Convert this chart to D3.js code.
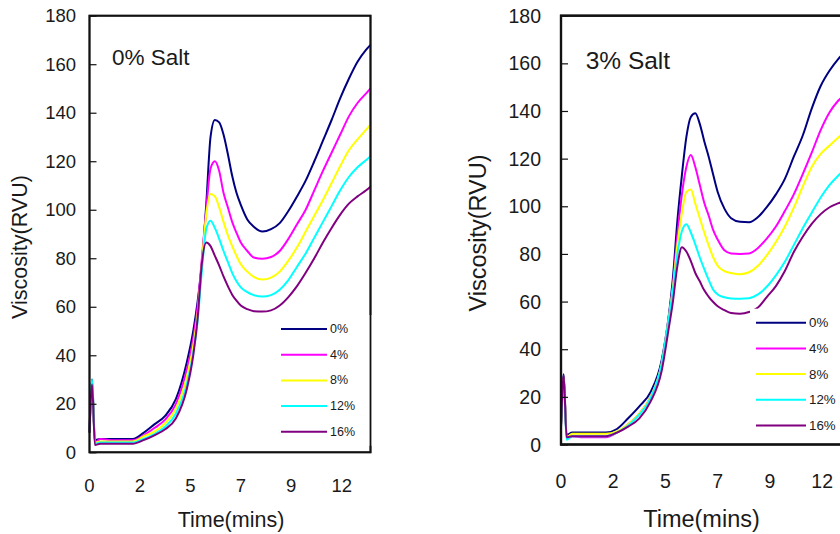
<!DOCTYPE html>
<html>
<head>
<meta charset="utf-8">
<script src="https://cdn.jsdelivr.net/npm/d3@7/dist/d3.min.js"></script>
<style>
  html, body { margin: 0; padding: 0; background: #fff; }
  svg { display: block; }
  text { font-family: "Liberation Sans", Arial, sans-serif; fill: #1a1a1a; }
</style>
</head>
<body>
<svg id="chart" width="840" height="534"></svg>
<script>
// Sampling times (min) shared by every RVA pasting curve
const times = [0, 0.12, 0.25, 0.5, 1.0, 1.5, 2.0, 2.5, 3.0, 3.5, 4.0, 4.5, 4.8, 5.0, 5.2, 5.4, 5.6, 5.8, 6.0, 6.2,
               6.4, 6.6, 6.8, 7.0, 7.3, 7.6, 8.0, 8.4, 8.8, 9.2, 9.6, 10.0, 10.4, 10.8, 11.2, 11.6, 12.0, 12.4, 12.8, 13.0];

// Viscosity (RVU), 0% salt, one array per additive level
const salt0_level0  = [8.5, 30, 5, 5.5, 5.5, 5.5, 5.5, 8, 11.5, 15, 22, 37, 50, 62, 78, 102, 130, 137, 136, 131,
                       123, 114, 107, 102, 96, 93, 91, 92, 94.5, 99.5, 105.5, 112, 120, 128.5, 137, 146, 154, 161, 166, 168];
const salt0_level4  = [8.5, 29, 4, 5.5, 5, 5, 5, 7, 10, 13.5, 20, 34, 47, 60, 80, 100, 117, 120, 116, 107,
                       101, 95, 90.5, 86.5, 83, 80.3, 79.8, 80.5, 83, 88, 94, 100, 108, 116, 123.5, 131, 138.5, 144, 148, 150];
const salt0_level8  = [8, 29, 4, 4.5, 4.5, 4.5, 4.5, 6.5, 8.5, 12, 18, 31, 44, 57, 78, 98, 106.5, 105.5, 101, 95,
                       89.5, 85, 81, 77.5, 74.5, 72.3, 71.2, 72, 74.5, 79, 84.5, 91, 97.5, 104, 111, 118, 124.5, 129, 133, 135];
const salt0_level12 = [8, 30, 3.5, 4, 4, 4, 4, 5.5, 7.5, 10.5, 16, 28, 41, 54, 75, 92, 95.5, 92.5, 88, 83,
                       78.5, 74, 70.5, 68, 66, 64.8, 64.2, 64.8, 67, 71, 76.5, 82, 88.5, 95, 101.5, 108, 113.5, 117.5, 120.5, 122];
const salt0_level16 = [8, 28, 3, 3.5, 3.5, 3.5, 3.5, 5, 7, 9.5, 14, 26, 40, 55, 78, 86.5, 85, 81, 77, 72.5,
                       68.5, 65, 62.5, 60.5, 59, 58.2, 58, 58.5, 60.5, 64, 68.5, 74, 80, 86.5, 92.5, 98, 102.5, 105.5, 108, 109.5];

// Viscosity (RVU), 3% salt
const salt3_level0  = [8, 29.5, 4, 5, 5, 5, 5, 6.5, 11, 16, 22, 35.5, 53, 70, 94, 113, 129, 137.5, 139, 134.6,
                       127.3, 120.7, 113.2, 106, 99, 95, 93.5, 93.3, 95.5, 99.7, 105, 111.5, 120.8, 129.7, 141, 150.5, 157, 162, 166, 168];
const salt3_level4  = [8, 28, 2.5, 3.5, 3, 3, 3, 5, 8.5, 13, 20, 34, 52, 67, 88, 105, 116.5, 121.5, 116.5, 109,
                       101.5, 96, 90, 86, 81.5, 80.2, 80, 80.2, 82.5, 86.5, 91.5, 98, 105, 113.5, 122.5, 132, 139.5, 144.5, 148, 150];
const salt3_level8  = [8, 28, 3, 4.5, 4.5, 4.5, 4.5, 5.5, 8.5, 13, 20, 34, 52, 66, 84, 97, 106, 107, 101, 95,
                       89, 83.5, 78.5, 75, 72.8, 72, 71.5, 72.3, 75, 79.5, 85, 91.5, 99.4, 108.3, 116.5, 122, 125.5, 129, 132.5, 134];
const salt3_level12 = [7.5, 27, 2, 3.5, 3.5, 3.5, 3.5, 5, 8, 12.5, 19.5, 34, 52, 65, 80, 89.5, 92.5, 89, 84, 78.5,
                       73.6, 69, 65, 63, 61.8, 61.3, 61.2, 61.4, 63, 66.3, 71, 76.7, 83.7, 90.8, 97.3, 103.7, 109, 113, 116.5, 118];
const salt3_level16 = [7, 29, 3, 3.5, 3.5, 3.5, 3.5, 5, 7.5, 11, 18, 31, 48, 60, 75, 82.8, 81, 77, 72, 68.5,
                       64.7, 62, 59.8, 58, 56.4, 55.2, 54.9, 55.6, 57.5, 62, 66.5, 72.8, 80.8, 87.2, 92.6, 96.7, 99.6, 101.3, 103, 104];

const seriesLabels = ["0%", "4%", "8%", "12%", "16%"];
const seriesColors = ["#000080", "#ff00ff", "#ffff00", "#00ffff", "#800080"];
const panelTitles = ["0% Salt", "3% Salt"];

// Time axis: category ticks every 140 s, labelled in whole minutes
const xTickValues = [0, 2.333, 4.667, 7, 9.333, 11.667];
const xTickLabels = ["0", "2", "5", "7", "9", "12"];
const yTickValues = [0, 20, 40, 60, 80, 100, 120, 140, 160, 180];
const xTitle = "Time(mins)";
const yTitle = "Viscosity(RVU)";

const svg = d3.select("#chart");

function drawPanel(p) {
  const x = d3.scaleLinear().domain([0, 13]).range([p.left, p.right]);
  const y = d3.scaleLinear().domain([0, 180]).range([p.bottom, p.top]);
  const g = svg.append("g");

  const line = d3.line()
    .x((d, i) => x(times[i]))
    .y(d => y(d))
    .curve(d3.curveMonotoneX);

  p.series.forEach((vals, i) => {
    g.append("path")
      .datum(vals)
      .attr("d", line)
      .attr("fill", "none")
      .attr("stroke", seriesColors[i])
      .attr("stroke-width", 2)
      .attr("stroke-linejoin", "round");
  });

  // Plot frame
  g.append("rect")
    .attr("x", x(0)).attr("y", y(180))
    .attr("width", x(13) - x(0)).attr("height", y(0) - y(180))
    .attr("fill", "none").attr("stroke", "#111").attr("stroke-width", p.frame);

  // Value axis with inward ticks
  const yAxis = d3.axisRight(y).tickValues(yTickValues).tickSize(7).tickFormat("");
  g.append("g").attr("transform", `translate(${x(0)},0)`).call(yAxis)
    .call(a => a.select(".domain").remove())
    .call(a => a.selectAll("line").attr("stroke", "#111").attr("stroke-width", 1.2));

  g.append("g").selectAll("text").data(yTickValues).join("text")
    .attr("x", p.yLabelX).attr("y", d => y(d))
    .attr("text-anchor", "end").attr("dominant-baseline", "central")
    .attr("font-size", p.tickFont).text(d => d);

  g.append("g").selectAll("text").data(xTickValues).join("text")
    .attr("x", d => x(d)).attr("y", p.xLabelY)
    .attr("text-anchor", "middle").attr("dominant-baseline", "central")
    .attr("font-size", p.tickFont).text((d, i) => xTickLabels[i]);

  g.append("text")
    .attr("x", p.xTitleX).attr("y", p.xTitleY)
    .attr("text-anchor", "middle").attr("dominant-baseline", "central")
    .attr("font-size", p.titleFont).text(xTitle);

  g.append("text")
    .attr("transform", `translate(${p.yTitleX},${p.yTitleY}) rotate(-90)`)
    .attr("text-anchor", "middle").attr("dominant-baseline", "central")
    .attr("font-size", p.titleFont).text(yTitle);

  g.append("text")
    .attr("x", p.nameX).attr("y", p.nameY)
    .attr("dominant-baseline", "central")
    .attr("font-size", p.nameFont).text(p.name);

  // Legend
  const lg = g.append("g");
  lg.append("rect")
    .attr("x", p.legX - 6).attr("y", p.legY - 14)
    .attr("width", 120).attr("height", p.legStep * 4 + 28)
    .attr("fill", "#fff");
  seriesLabels.forEach((lab, i) => {
    const ly = p.legY + i * p.legStep;
    lg.append("line")
      .attr("x1", p.legX).attr("x2", p.legX + p.legLen)
      .attr("y1", ly).attr("y2", ly)
      .attr("stroke", seriesColors[i]).attr("stroke-width", 2);
    lg.append("text")
      .attr("x", p.legX + p.legLen + 3).attr("y", ly)
      .attr("dominant-baseline", "central")
      .attr("font-size", p.legFont).text(lab);
  });
  // Redraw frame edge over the legend background
  g.append("rect")
    .attr("x", x(0)).attr("y", y(180))
    .attr("width", x(13) - x(0)).attr("height", y(0) - y(180))
    .attr("fill", "none").attr("stroke", "#111").attr("stroke-width", p.frame);
}

drawPanel({
  name: panelTitles[0],
  series: [salt0_level0, salt0_level4, salt0_level8, salt0_level12, salt0_level16],
  left: 89.5, right: 370.5, top: 15.7, bottom: 452.3, frame: 1.8,
  tickFont: 18.5, titleFont: 21.5, nameFont: 22.5, legFont: 12.5,
  yLabelX: 76, xLabelY: 485, xTitleX: 231, xTitleY: 520, yTitleX: 20, yTitleY: 247,
  nameX: 112, nameY: 57,
  legX: 281, legY: 329, legStep: 25.7, legLen: 46
});

drawPanel({
  name: panelTitles[1],
  series: [salt3_level0, salt3_level4, salt3_level8, salt3_level12, salt3_level16],
  left: 561, right: 852, top: 15.7, bottom: 444.5, frame: 2.2,
  tickFont: 19.5, titleFont: 23.5, nameFont: 24.5, legFont: 13.3,
  yLabelX: 541, xLabelY: 481, xTitleX: 701.5, xTitleY: 519, yTitleX: 478, yTitleY: 233,
  nameX: 585.7, nameY: 60,
  legX: 756, legY: 322.7, legStep: 25.7, legLen: 50
});
</script>
</body>
</html>
